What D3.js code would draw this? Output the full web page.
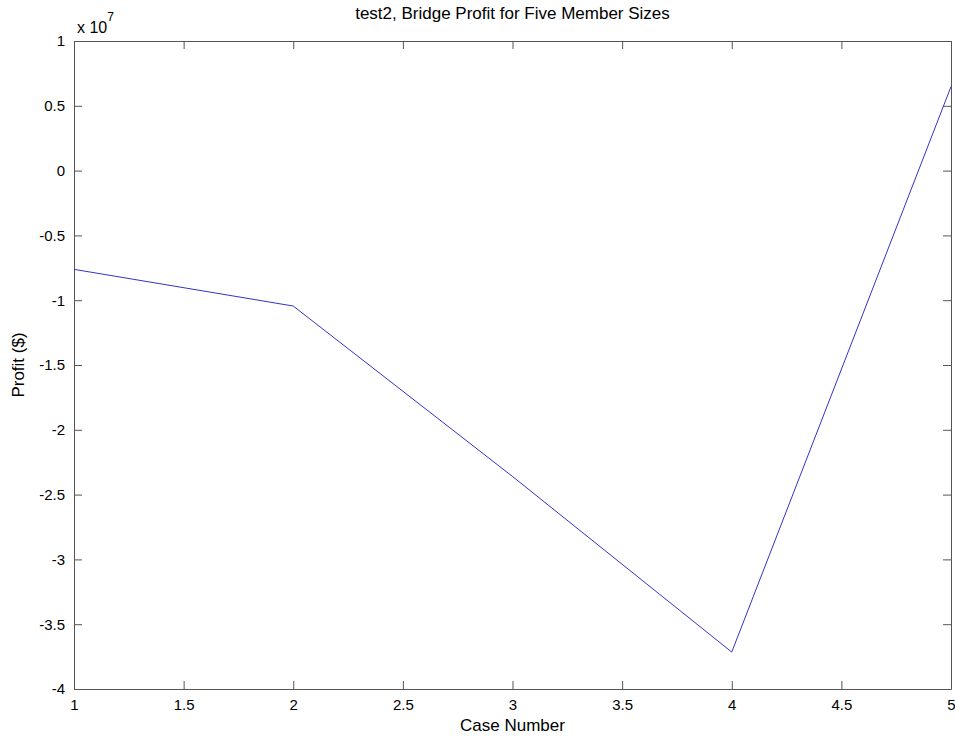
<!DOCTYPE html>
<html>
<head>
<meta charset="utf-8">
<script src="https://cdn.jsdelivr.net/npm/d3@7"></script>
<style>
  body { margin: 0; background: #fff; }
  svg text { font-family: "Liberation Sans", Arial, sans-serif; fill: #000; }
</style>
</head>
<body>
<div id="grafico"></div>
<script>
// valores (profit en unidades de 1e7 $)
const casos = [1, 2, 3, 4, 5];
const profit = [-0.762, -1.045, -2.36, -3.715, 0.648];
const xTicks = [1, 1.5, 2, 2.5, 3, 3.5, 4, 4.5, 5];
const yTicks = [1, 0.5, 0, -0.5, -1, -1.5, -2, -2.5, -3, -3.5, -4];

const width = 955;
const height = 736;
const margin = { top: 41, right: 4, bottom: 47, left: 74 };

const svg = d3
  .select("#grafico")
  .append("svg")
  .attr("width", width)
  .attr("height", height);

const x = d3
  .scaleLinear()
  .domain([1, 5])
  .range([margin.left, width - margin.right]);

const y = d3
  .scaleLinear()
  .domain([-4, 1])
  .range([height - margin.bottom, margin.top]);

const fmt = (d) => String(d);
const tk = 8;

// ejes abajo y arriba (ticks hacia adentro)
svg
  .append("g")
  .attr("transform", `translate(0,${y(-4)})`)
  .call(d3.axisBottom(x).tickValues(xTicks).tickFormat(fmt).tickSizeInner(-tk).tickSizeOuter(0).tickPadding(10))
  .call((g) => g.selectAll("text").style("font-size", "15px"));

svg
  .append("g")
  .attr("transform", `translate(0,${y(1)})`)
  .call(d3.axisTop(x).tickValues(xTicks).tickFormat("").tickSizeInner(-tk).tickSizeOuter(0));

// ejes izquierda y derecha
svg
  .append("g")
  .attr("transform", `translate(${x(1)},0)`)
  .call(d3.axisLeft(y).tickValues(yTicks).tickFormat(fmt).tickSizeInner(-tk).tickSizeOuter(0).tickPadding(9))
  .call((g) => g.selectAll("text").style("font-size", "15px"));

svg
  .append("g")
  .attr("transform", `translate(${x(5)},0)`)
  .call(d3.axisRight(y).tickValues(yTicks).tickFormat("").tickSizeInner(-tk).tickSizeOuter(0));

svg.selectAll(".domain").attr("stroke", "#555");
svg.selectAll(".tick line").attr("stroke", "#555");

// linea
const line = d3
  .line()
  .x((d, i) => x(casos[i]))
  .y((d) => y(d));

svg
  .append("path")
  .datum(profit)
  .attr("d", line)
  .attr("fill", "none")
  .attr("stroke", "#3333cc")
  .attr("stroke-width", 1);

// textos
svg
  .append("text")
  .attr("x", (x(1) + x(5)) / 2)
  .attr("y", 19)
  .attr("text-anchor", "middle")
  .style("font-size", "17px")
  .text("test2, Bridge Profit for Five Member Sizes");

svg
  .append("text")
  .attr("x", (x(1) + x(5)) / 2)
  .attr("y", 731)
  .attr("text-anchor", "middle")
  .style("font-size", "17px")
  .text("Case Number");

svg
  .append("text")
  .attr("transform", `translate(24,${(y(1) + y(-4)) / 2}) rotate(-90)`)
  .attr("text-anchor", "middle")
  .style("font-size", "17px")
  .text("Profit ($)");

const exp = svg
  .append("text")
  .attr("x", 77)
  .attr("y", 33)
  .style("font-size", "16px");
exp.append("tspan").text("x 10");
exp.append("tspan").attr("dy", -12).style("font-size", "12px").text("7");
</script>
</body>
</html>
